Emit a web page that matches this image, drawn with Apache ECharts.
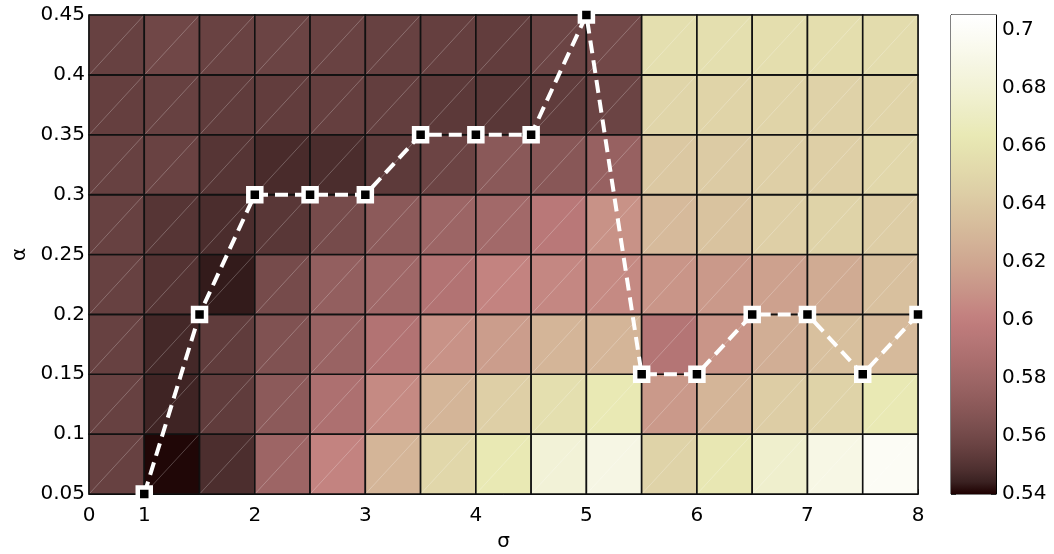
<!DOCTYPE html>
<html><head><meta charset="utf-8">
<script src="https://cdn.jsdelivr.net/npm/echarts@6/dist/echarts.min.js"></script>
<style>html,body{margin:0;padding:0;background:#fff}#c{width:1054px;height:554px}</style>
</head><body><div id="c"></div>
<script>
// ---- data ----
const sigmaLeft = [0.5,1,1.5,2,2.5,3,3.5,4,4.5,5,5.5,6,6.5,7,7.5];   // left edge of each σ column
const alphaBottom = [0.05,0.10,0.15,0.20,0.25,0.30,0.35,0.40];      // bottom edge of each α row
const cellW = 0.5, cellH = 0.05;
const z_a05 = [0.5560,0.5402,0.5480,0.5790,0.6024,0.6280,0.6500,0.6634,0.6810,0.6880,0.6475,0.6620,0.6755,0.6890,0.6986];
const z_a10 = [0.5560,0.5450,0.5538,0.5710,0.5877,0.6057,0.6280,0.6448,0.6560,0.6634,0.6125,0.6280,0.6436,0.6475,0.6634];
const z_a15 = [0.5560,0.5462,0.5538,0.5655,0.5770,0.5906,0.6093,0.6146,0.6280,0.6280,0.5921,0.6107,0.6241,0.6350,0.6314];
const z_a20 = [0.5560,0.5500,0.5428,0.5615,0.5742,0.5800,0.5906,0.6024,0.6040,0.6057,0.6107,0.6125,0.6168,0.6223,0.6350];
const z_a25 = [0.5560,0.5508,0.5478,0.5515,0.5615,0.5710,0.5785,0.5818,0.5948,0.6093,0.6314,0.6366,0.6448,0.6475,0.6436];
const z_a30 = [0.5560,0.5565,0.5508,0.5472,0.5478,0.5528,0.5578,0.5700,0.5688,0.5760,0.6398,0.6420,0.6448,0.6450,0.6500];
const z_a35 = [0.5552,0.5560,0.5538,0.5542,0.5552,0.5548,0.5525,0.5515,0.5538,0.5575,0.6490,0.6480,0.6480,0.6470,0.6480];
const z_a40 = [0.5560,0.5590,0.5565,0.5575,0.5565,0.5560,0.5552,0.5542,0.5575,0.5600,0.6560,0.6560,0.6550,0.6550,0.6540];
const zRows = [z_a05,z_a10,z_a15,z_a20,z_a25,z_a30,z_a35,z_a40];
const lineSigma = [1,1.5,2,2.5,3,3.5,4,4.5,5,5.5,6,6.5,7,7.5,8];
const lineAlpha = [0.05,0.2,0.3,0.3,0.3,0.35,0.35,0.35,0.45,0.15,0.15,0.2,0.2,0.15,0.2];
const vmin = 0.54, vmax = 0.705;

// ---- matplotlib "pink" colormap ----
function pink(t){
  t = Math.max(0, Math.min(1, t));
  const hr = Math.min(1, 0.0416 + 0.9584 * t / 0.365079);
  const hg = Math.max(0, Math.min(1, (t - 0.365079) / (0.746032 - 0.365079)));
  const hb = Math.max(0, Math.min(1, (t - 0.746032) / (1 - 0.746032)));
  const f = h => Math.round(255 * Math.sqrt((2 * t + h) / 3));
  return 'rgb(' + f(hr) + ',' + f(hg) + ',' + f(hb) + ')';
}

const cells = [];
zRows.forEach((row, r) => row.forEach((v, c) => cells.push([sigmaLeft[c], alphaBottom[r], v])));
const lineData = lineSigma.map((x, i) => [x, lineAlpha[i]]);

const FONT = 'DejaVu Sans';
const lbl = {color:'#000', fontSize:20, fontFamily:FONT};

const stops = [];
for (let i = 0; i <= 40; i++) stops.push({offset: i / 40, color: pink(i / 40)});

const chart = echarts.init(document.getElementById('c'));
chart.setOption({
  animation: false,
  backgroundColor: '#fff',
  grid: [
    {left: 89, top: 15, width: 829, height: 479, outerBoundsMode: 'none', containLabel: false, show: true, borderColor: '#000', borderWidth: 1, backgroundColor: 'transparent'},
    {left: 951, top: 15, width: 45, height: 479, outerBoundsMode: 'none', containLabel: false, show: true, borderColor: '#000', borderWidth: 1, backgroundColor: 'transparent'}
  ],
  xAxis: [
    {gridIndex: 0, type: 'value', min: 0.5, max: 8, interval: 0.5,
     name: 'σ', nameLocation: 'middle', nameGap: 38, nameTextStyle: lbl,
     axisLine: {show: true, lineStyle: {color: '#000', width: 1}},
     axisTick: {show: true, inside: true, length: 5, lineStyle: {color: '#000'}},
     splitLine: {show: false},
     axisLabel: Object.assign({margin: 12, formatter: v => Math.abs(v - 0.5) < 1e-9 ? '0' : (Math.abs(v - Math.round(v)) < 1e-9 ? String(Math.round(v)) : '')}, lbl)},
    {gridIndex: 1, type: 'value', min: 0, max: 1, show: false}
  ],
  yAxis: [
    {gridIndex: 0, type: 'value', min: 0.05, max: 0.45, interval: 0.05,
     name: 'α', nameLocation: 'middle', nameGap: 58, nameTextStyle: lbl,
     axisLine: {show: true, lineStyle: {color: '#000', width: 1}},
     axisTick: {show: true, inside: true, length: 5, lineStyle: {color: '#000'}},
     splitLine: {show: false},
     axisLabel: Object.assign({margin: 4, formatter: v => String(Math.round(v * 100) / 100)}, lbl)},
    {gridIndex: 1, type: 'value', min: vmin, max: vmax, interval: 0.02, position: 'left',
     axisLine: {show: true, lineStyle: {color: '#000', width: 1}},
     axisTick: {show: true, inside: true, length: 5, lineStyle: {color: '#222'}},
     axisLabel: {show: false}, splitLine: {show: false}},
    {gridIndex: 1, type: 'value', min: vmin, max: vmax, interval: 0.02, position: 'right',
     axisLine: {show: true, lineStyle: {color: '#000', width: 1}},
     axisTick: {show: true, inside: true, length: 5, lineStyle: {color: '#222'}},
     splitLine: {show: false},
     axisLabel: Object.assign({margin: 6, formatter: v => { const k = Math.round(v * 50); return Math.abs(v * 50 - k) < 1e-6 ? String(k / 50) : ''; }}, lbl)}
  ],
  series: [
    {type: 'custom', xAxisIndex: 0, yAxisIndex: 0, data: cells, silent: true, z: 1,
     encode: {x: 0, y: 1},
     renderItem: function (params, api) {
       const x0 = api.value(0), y0 = api.value(1), v = api.value(2);
       const p1 = api.coord([x0, y0 + cellH]);
       const p2 = api.coord([x0 + cellW, y0]);
       return {type: 'group', children: [
         {type: 'rect', shape: {x: p1[0], y: p1[1], width: p2[0] - p1[0], height: p2[1] - p1[1]},
          style: {fill: pink((v - vmin) / (vmax - vmin)), stroke: '#111', lineWidth: 1.6}},
         {type: 'line', shape: {x1: p1[0] + 1, y1: p2[1] - 1, x2: p2[0] - 1, y2: p1[1] + 1},
          style: {stroke: 'rgba(255,255,255,0.3)', lineWidth: 0.8}}
       ]};
     }},
    {type: 'line', xAxisIndex: 0, yAxisIndex: 0, data: lineData, z: 5, clip: false, silent: true,
     symbol: 'rect', symbolSize: 13,
     itemStyle: {color: '#000', borderColor: '#fff', borderWidth: 4.5},
     lineStyle: {color: '#fff', width: 4, type: [13, 7]}},
    {type: 'custom', xAxisIndex: 1, yAxisIndex: 1, data: [[0, 1, vmin, vmax]], silent: true, z: 1,
     renderItem: function (params, api) {
       const a = api.coord([api.value(0), api.value(3)]);
       const b = api.coord([api.value(1), api.value(2)]);
       return {type: 'rect', shape: {x: a[0], y: a[1], width: b[0] - a[0], height: b[1] - a[1]},
               style: {fill: new echarts.graphic.LinearGradient(0, 1, 0, 0, stops)}};
     }}
  ]
});
</script></body></html>
